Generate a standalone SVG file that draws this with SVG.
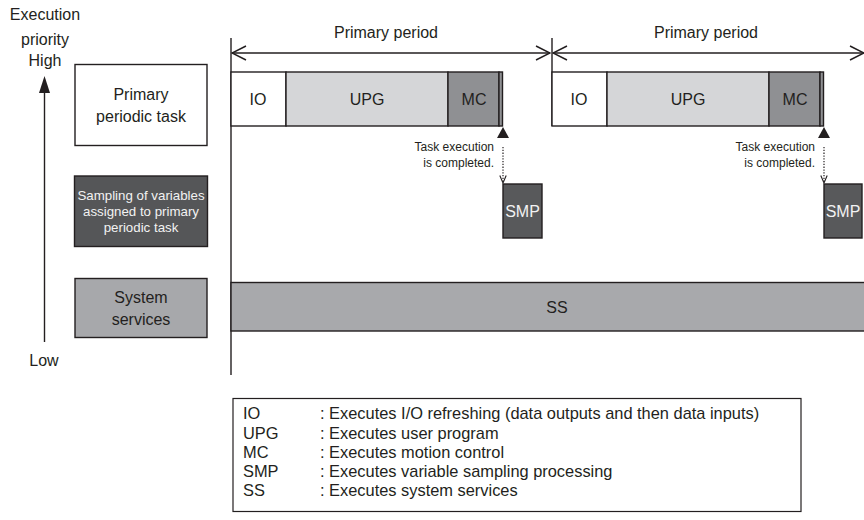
<svg xmlns="http://www.w3.org/2000/svg" width="864" height="520" viewBox="0 0 864 520">
<defs>
<style>
text{font-family:"Liberation Sans",Arial,Helvetica,sans-serif;fill:#231f20;}
.t16{font-size:16px;}
.lg{font-size:16.4px;}
.sm{font-size:12px;}
.mid{text-anchor:middle;}
.end{text-anchor:end;}
.wt{fill:#f2f2f2;}
.ln{stroke:#231f20;stroke-width:1.4;fill:none;}
.box{stroke:#231f20;stroke-width:1.4;}
.dot{stroke:#231f20;stroke-width:1.2;stroke-dasharray:1.3 1.5;fill:none;}
</style>
<marker id="open" viewBox="0 0 16 16" refX="15" refY="8" markerWidth="16" markerHeight="16" markerUnits="userSpaceOnUse" orient="auto-start-reverse">
<path d="M1,1 L15,8 L1,15" fill="none" stroke="#231f20" stroke-width="1.5"/>
</marker>
<marker id="vhead" viewBox="0 0 8 9" refX="4" refY="8" markerWidth="8" markerHeight="9" markerUnits="userSpaceOnUse" orient="0">
<path d="M0.8,0.5 L4,8 L7.2,0.5" fill="none" stroke="#231f20" stroke-width="1.1"/>
</marker>
</defs>

<g id="priority-axis">
<text class="t16 mid" x="45" y="20">Execution</text>
<text class="t16 mid" x="45" y="45">priority</text>
<text class="t16 mid" x="45" y="66">High</text>
<line x1="44.5" y1="342" x2="44.5" y2="93" class="ln"/>
<path d="M44.5,76 L50,93 L39,93 Z" fill="#231f20"/>
<text class="t16 mid" x="44" y="366">Low</text>
</g>

<g id="legend-primary">
<rect x="75" y="64.5" width="132" height="81" fill="#ffffff" class="box"/>
<text class="t16 mid" x="141" y="100">Primary</text>
<text class="t16 mid" x="141" y="122">periodic task</text>
</g>
<g id="legend-sampling">
<rect x="74.5" y="176" width="133" height="70.5" fill="#555658" class="box"/>
<text class="mid wt" style="font-size:13.3px" x="141" y="199.5">Sampling of variables</text>
<text class="mid wt" style="font-size:13.3px" x="141" y="216">assigned to primary</text>
<text class="mid wt" style="font-size:13.3px" x="141" y="232">periodic task</text>
</g>
<g id="legend-system">
<rect x="75" y="278.5" width="132" height="59" fill="#a7a8ab" class="box"/>
<text class="t16 mid" x="141" y="303">System</text>
<text class="t16 mid" x="141" y="325">services</text>
</g>

<g id="timeline-axes">
<line x1="231" y1="38" x2="231" y2="375" class="ln"/>
<line x1="552" y1="38" x2="552" y2="126" class="ln"/>
</g>

<g id="period1">
<line x1="232" y1="53" x2="550" y2="53" class="ln" marker-start="url(#open)" marker-end="url(#open)"/>
<text class="t16 mid" x="386" y="38">Primary period</text>
</g>
<g id="period2">
<line x1="553" y1="53" x2="864" y2="53" class="ln" marker-start="url(#open)" marker-end="url(#open)"/>
<text class="t16 mid" x="706" y="38">Primary period</text>
</g>

<g id="io1"><rect x="231" y="72" width="55" height="54" fill="#ffffff" class="box"/><text class="t16 mid" x="258" y="105">IO</text></g>
<g id="upg1"><rect x="286" y="72" width="162" height="54" fill="#d5d6d8" class="box"/><text class="t16 mid" x="367" y="105">UPG</text></g>
<g id="mc1"><rect x="448" y="72" width="51" height="54" fill="#8f9093" class="box"/><rect x="499" y="72" width="3.5" height="54" fill="#8f9093" class="box"/><text class="t16 mid" x="474" y="105">MC</text></g>

<g id="io2"><rect x="552" y="72" width="55" height="54" fill="#ffffff" class="box"/><text class="t16 mid" x="579" y="105">IO</text></g>
<g id="upg2"><rect x="607" y="72" width="162" height="54" fill="#d5d6d8" class="box"/><text class="t16 mid" x="688" y="105">UPG</text></g>
<g id="mc2"><rect x="769" y="72" width="51" height="54" fill="#8f9093" class="box"/><rect x="820" y="72" width="3.5" height="54" fill="#8f9093" class="box"/><text class="t16 mid" x="795" y="105">MC</text></g>

<g id="complete1">
<path d="M503,127 L509,138 L497,138 Z" fill="#231f20"/>
<text class="sm end" x="494" y="151">Task execution</text>
<text class="sm end" x="494" y="167">is completed.</text>
</g>
<g id="complete2">
<path d="M824,127 L830,138 L818,138 Z" fill="#231f20"/>
<text class="sm end" x="815" y="151">Task execution</text>
<text class="sm end" x="815" y="167">is completed.</text>
</g>

<g id="smp1"><rect x="503" y="184" width="39" height="54" fill="#58595b" class="box"/><text class="t16 mid wt" x="522.5" y="217">SMP</text></g>
<g id="smp2"><rect x="824" y="184" width="38" height="54" fill="#58595b" class="box"/><text class="t16 mid wt" x="843" y="217">SMP</text></g>

<g id="ss">
<rect x="231" y="282.5" width="640" height="48.5" fill="#a8a9ac" class="box"/>
<text class="t16 mid" x="557" y="313">SS</text>
</g>

<g id="connectors">
<line x1="503" y1="147" x2="503" y2="183" class="dot" marker-end="url(#vhead)"/>
<line x1="824" y1="147" x2="824" y2="183" class="dot" marker-end="url(#vhead)"/>
</g>

<g id="legend">
<rect x="233" y="398.5" width="568" height="113" fill="#ffffff" stroke="#231f20" stroke-width="1.2"/>
<text class="lg" x="243" y="419">IO</text><text class="lg" x="320" y="419">: Executes I/O refreshing (data outputs and then data inputs)</text>
<text class="lg" x="243" y="438.5">UPG</text><text class="lg" x="320" y="438.5">: Executes user program</text>
<text class="lg" x="243" y="457.5">MC</text><text class="lg" x="320" y="457.5">: Executes motion control</text>
<text class="lg" x="243" y="477">SMP</text><text class="lg" x="320" y="477">: Executes variable sampling processing</text>
<text class="lg" x="243" y="496">SS</text><text class="lg" x="320" y="496">: Executes system services</text>
</g>
</svg>
